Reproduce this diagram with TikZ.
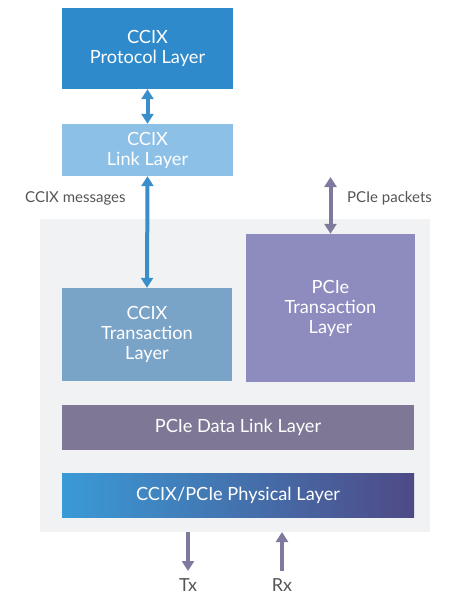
\documentclass[tikz,border=0pt]{standalone}
\usepackage{fontspec}
\setmainfont{Lato}
\usetikzlibrary{arrows.meta,calc}
\definecolor{protoc}{HTML}{2E8ACB}
\definecolor{linkc}{HTML}{8DC0E6}
\definecolor{ccixtc}{HTML}{7AA3C8}
\definecolor{pcietc}{HTML}{8E8CBE}
\definecolor{dlc}{HTML}{7E7896}
\definecolor{phyl}{HTML}{3A9AD6}
\definecolor{phyr}{HTML}{4E4A86}
\definecolor{bgc}{HTML}{F1F2F4}
\definecolor{bluearr}{HTML}{3A8FCB}
\definecolor{purarr}{HTML}{7E7A9E}
\definecolor{labc}{HTML}{555555}
\tikzset{
  box/.style={draw=none, rectangle, inner sep=0pt, text=white, align=center,
    font=\fontsize{18.2}{20}\selectfont},
  lab/.style={text=labc, font=\fontsize{15}{17}\selectfont, inner sep=0pt},
  biglab/.style={text=labc, font=\fontsize{18}{20}\selectfont, inner sep=0pt},
  tip/.tip={Triangle[width=12pt,length=10pt]},
  barrow/.style={draw=bluearr, line width=4pt, tip-tip},
  parrow/.style={draw=purarr, line width=4pt},
  ptip/.style={-tip},
  pboth/.style={tip-tip}
}
\begin{document}
\begin{tikzpicture}[x=1pt,y=-1pt]
\useasboundingbox[fill=white] (0,0) rectangle (461,600);
\node[rectangle, fill=bgc, minimum width=390pt, minimum height=313pt, inner sep=0pt] (bg) at (235,375.5) {};
\node[box, fill=protoc, minimum width=171pt, minimum height=81pt] (proto) at (147.5,48.5) {CCIX\\Protocol Layer};
\node[box, fill=linkc, minimum width=171pt, minimum height=52pt] (link) at (147.5,150) {CCIX\\Link Layer};
\node[box, fill=ccixtc, minimum width=170pt, minimum height=93pt] (ccixt) at (147,334.5) {CCIX\\Transaction\\Layer};
\node[box, fill=pcietc, minimum width=169pt, minimum height=148pt] (pciet) at (330.5,308) {PCIe\\Transaction\\Layer};
\node[box, fill=dlc, minimum width=352pt, minimum height=45pt] (dl) at (238,427.5) {PCIe Data Link Layer};
\node[box, left color=phyl, right color=phyr, minimum width=352pt, minimum height=44pt] (phy) at (238,495) {CCIX/PCIe Physical Layer};
\node[lab, anchor=west] (msg) at (25,198) {CCIX messages};
\node[lab, anchor=west] (pkt) at (347,198) {PCIe packets};
\node[biglab] (tx) at (188,585) {Tx};
\node[biglab] (rx) at (282,585) {Rx};
\coordinate (pp) at (330.5,177);
\coordinate (txa) at (188,532);
\coordinate (txb) at (188,571);
\coordinate (rxa) at (282,571);
\coordinate (rxb) at (282,532);
\draw[barrow] (proto.south) -- (link.north);
\draw[barrow] (link.south) -- (ccixt.north);
\draw[parrow, pboth] (pp) -- (pciet.north);
\draw[parrow, ptip] (txa) -- (txb);
\draw[parrow, ptip] (rxa) -- (rxb);
\end{tikzpicture}
\end{document}
